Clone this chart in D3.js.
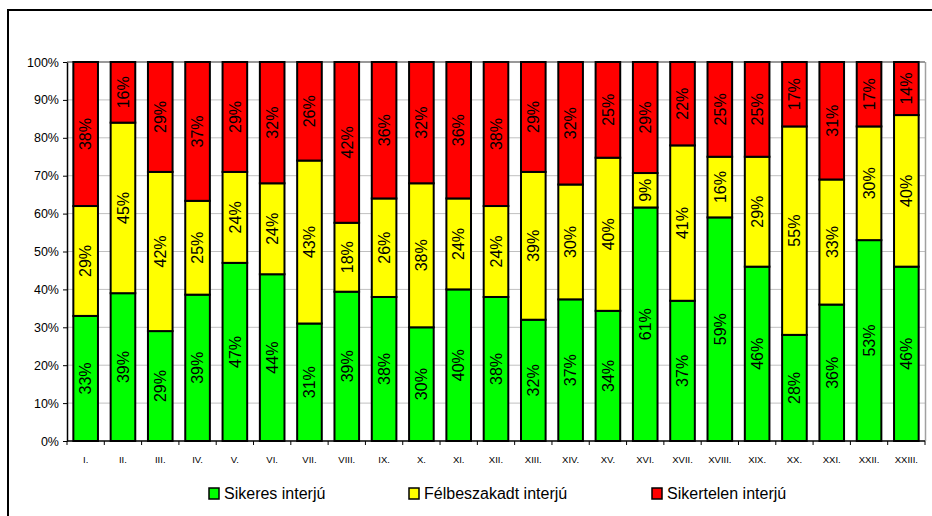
<!DOCTYPE html>
<html>
<head>
<meta charset="utf-8">
<script src="https://cdn.jsdelivr.net/npm/d3@7"></script>
<style>
  html, body { margin: 0; padding: 0; background: #fff; }
  svg { display: block; font-family: "Liberation Sans", Arial, sans-serif; }
</style>
</head>
<body>
<svg id="chart" width="932" height="516"></svg>
<script>
// Regions / survey waves
const categories = ["I.", "II.", "III.", "IV.", "V.", "VI.", "VII.", "VIII.", "IX.", "X.", "XI.", "XII.",
  "XIII.", "XIV.", "XV.", "XVI.", "XVII.", "XVIII.", "XIX.", "XX.", "XXI.", "XXII.", "XXIII."];

// Share of interviews per outcome (%)
const sikeres      = [33, 39, 29, 39, 47, 44, 31, 39, 38, 30, 40, 38, 32, 37, 34, 61, 37, 59, 46, 28, 36, 53, 46];
const felbeszakadt = [29, 45, 42, 25, 24, 24, 43, 18, 26, 38, 24, 24, 39, 30, 40, 9, 41, 16, 29, 55, 33, 30, 40];
const sikertelen   = [38, 16, 29, 37, 29, 32, 26, 42, 36, 32, 36, 38, 29, 32, 25, 29, 22, 25, 25, 17, 31, 17, 14];

const seriesNames = ["Sikeres interjú", "Félbeszakadt interjú", "Sikertelen interjú"];
const seriesColors = ["#00ff00", "#ffff00", "#ff0000"];
const yTicks = [0, 0.1, 0.2, 0.3, 0.4, 0.5, 0.6, 0.7, 0.8, 0.9, 1];

const keys = ["s", "f", "t"];
const rows = categories.map((c, i) => ({ cat: c, s: sikeres[i], f: felbeszakadt[i], t: sikertelen[i] }));

const svg = d3.select("#chart");

// Outer chart frame (runs off the right and bottom edges)
svg.append("path")
  .attr("d", "M8,520 L8,10 L940,10")
  .attr("fill", "none").attr("stroke", "#000").attr("stroke-width", 2);

const plot = { left: 67, right: 925, top: 62, bottom: 441 };

const x = d3.scaleBand().domain(categories).range([plot.left, plot.right]).paddingInner(0.34).paddingOuter(0.17);
const y = d3.scaleLinear().domain([0, 1]).range([plot.bottom, plot.top]);

// Gridlines
svg.append("g").selectAll("line").data(yTicks.slice(1)).join("line")
  .attr("x1", plot.left).attr("x2", plot.right)
  .attr("y1", d => y(d)).attr("y2", d => y(d))
  .attr("stroke", "#c0c0c0").attr("stroke-width", 1);

// Plot area borders (top and right)
svg.append("line")
  .attr("x1", plot.right + 0.5).attr("x2", plot.right + 0.5)
  .attr("y1", plot.top).attr("y2", plot.bottom)
  .attr("stroke", "#a0a0a0").attr("stroke-width", 1.5);
svg.append("line")
  .attr("x1", plot.left).attr("x2", plot.right)
  .attr("y1", plot.top).attr("y2", plot.top)
  .attr("stroke", "#808080").attr("stroke-width", 1.5);

const stack = d3.stack().keys(keys).offset(d3.stackOffsetExpand);
const stacked = stack(rows);

const layers = svg.append("g").selectAll("g").data(stacked).join("g")
  .attr("fill", (d, i) => seriesColors[i]);

layers.selectAll("rect").data(d => d).join("rect")
  .attr("x", d => x(d.data.cat))
  .attr("width", x.bandwidth())
  .attr("y", d => y(d[1]))
  .attr("height", d => y(d[0]) - y(d[1]))
  .attr("stroke", "#000").attr("stroke-width", 2);

// Value labels, rotated inside each segment
stacked.forEach((layer) => {
  svg.append("g").selectAll("text").data(layer).join("text")
    .attr("transform", d => {
      const cx = x(d.data.cat) + x.bandwidth() / 2;
      const cy = y((d[0] + d[1]) / 2);
      return `translate(${cx},${cy}) rotate(-90)`;
    })
    .attr("text-anchor", "middle")
    .attr("dy", "0.36em")
    .attr("font-size", 16)
    .attr("fill", "#000")
    .text(d => d.data[layer.key] + "%");
});

// Y axis
const yAxis = d3.axisLeft(y).tickValues(yTicks).tickFormat(d3.format(".0%")).tickSize(4).tickSizeOuter(0);
const gy = svg.append("g").attr("transform", `translate(${plot.left},0)`).call(yAxis);
gy.select(".domain").attr("stroke", "#000").attr("stroke-width", 1.5);
gy.selectAll(".tick line").attr("stroke", "#000");
gy.selectAll(".tick text").attr("font-size", 12.5).attr("font-family", "Liberation Sans, Arial, sans-serif").attr("fill", "#000").attr("x", -8);

// X axis with ticks between categories
const gx = svg.append("g").attr("transform", `translate(0,${plot.bottom})`);
gx.append("line").attr("x1", plot.left).attr("x2", plot.right)
  .attr("stroke", "#000").attr("stroke-width", 1.5);
const bounds = d3.range(categories.length + 1).map(i => plot.left + i * (plot.right - plot.left) / categories.length);
gx.selectAll(".tk").data(bounds).join("line").attr("class", "tk")
  .attr("x1", d => d).attr("x2", d => d).attr("y1", 0).attr("y2", 4)
  .attr("stroke", "#000");
gx.selectAll("text").data(categories).join("text")
  .attr("x", d => x(d) + x.bandwidth() / 2)
  .attr("y", 22)
  .attr("text-anchor", "middle")
  .attr("font-size", 9.5)
  .attr("fill", "#000")
  .text(d => d);

// Legend
const legendX = [209, 409, 652];
const legend = svg.append("g").selectAll("g").data(seriesNames).join("g")
  .attr("transform", (d, i) => `translate(${legendX[i]},488)`);
legend.append("rect").attr("width", 10).attr("height", 11)
  .attr("fill", (d, i) => seriesColors[i]).attr("stroke", "#000").attr("stroke-width", 1.5);
legend.append("text").attr("x", 15).attr("y", 11).attr("font-size", 16).attr("fill", "#000").text(d => d);
</script>
</body>
</html>
